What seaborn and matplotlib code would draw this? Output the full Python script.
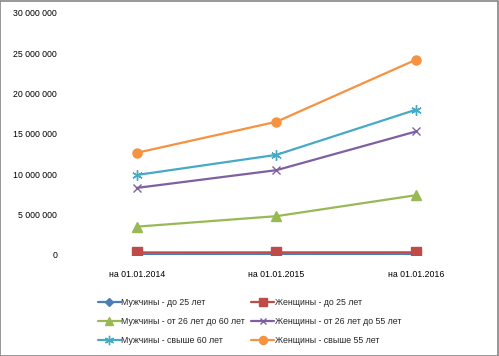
import numpy as np
import pandas as pd
import seaborn as sns
import matplotlib.pyplot as plt
from matplotlib.ticker import FuncFormatter
from matplotlib.patches import Rectangle

# data
dates = ["на 01.01.2014", "на 01.01.2015", "на 01.01.2016"]
men_25 = [80000, 85000, 90000]
women_25 = [300000, 310000, 320000]
men_26_60 = [3500000, 4800000, 7400000]
women_26_55 = [8300000, 10500000, 15300000]
men_60 = [9900000, 12400000, 18000000]
women_55 = [12650000, 16500000, 24200000]

series = [
    ("Мужчины - до 25 лет", men_25, "#4A7EBB", "D", 4.5),
    ("Женщины - до 25 лет", women_25, "#BE4B48", "s", 6.5),
    ("Мужчины - от 26 лет до 60 лет", men_26_60, "#98B954", "^", 6.5),
    ("Женщины - от 26 лет до 55 лет", women_26_55, "#7D60A0", "x", 5.5),
    ("Мужчины - свыше 60 лет", men_60, "#46AAC5", (6, 2, 0), 7.5),
    ("Женщины - свыше 55 лет", women_55, "#F69240", "o", 6.5),
]

sns.set_style("white")
plt.rcParams["font.family"] = ["Liberation Sans", "DejaVu Sans"]

fig = plt.figure(figsize=(4.99, 3.56), dpi=100)
ax = fig.add_axes([0.134, 0.284, 0.84, 0.68])

for name, vals, color, marker, ms in series:
    df = pd.DataFrame({"date": dates, "value": vals})
    sns.lineplot(data=df, x="date", y="value", ax=ax, color=color, marker=marker,
                 markersize=ms, markeredgecolor=color, markeredgewidth=1,
                 linewidth=1.6, label=name, sort=False)

ax.set_xlim(-0.5, 2.5)
ax.set_ylim(0, 30000000)
ax.set_yticks(np.arange(0, 30000001, 5000000))
ax.yaxis.set_major_formatter(FuncFormatter(lambda v, p: f"{int(v):,}".replace(",", " ")))
ax.set_xlabel("")
ax.set_ylabel("")
ax.tick_params(axis="both", length=0, labelsize=6.3, colors="black")
ax.tick_params(axis="x", pad=11)
ax.tick_params(axis="y", pad=7)
sns.despine(ax=ax, left=True, bottom=True)

handles, labels = ax.get_legend_handles_labels()
order = [0, 2, 4, 1, 3, 5]
ax.legend([handles[i] for i in order], [labels[i] for i in order],
          loc="upper center", bbox_to_anchor=(0.5, 0.185), bbox_transform=fig.transFigure,
          ncol=2, frameon=False, fontsize=6.3, handlelength=2.6, handletextpad=0.1,
          columnspacing=0.7, labelspacing=1.15, markerscale=0.9)

fig.patches.append(Rectangle((0.001, 0.001), 0.997, 0.996, transform=fig.transFigure,
                             fill=False, edgecolor="#868686", linewidth=1.2))

fig.savefig("out.png", dpi=100)
